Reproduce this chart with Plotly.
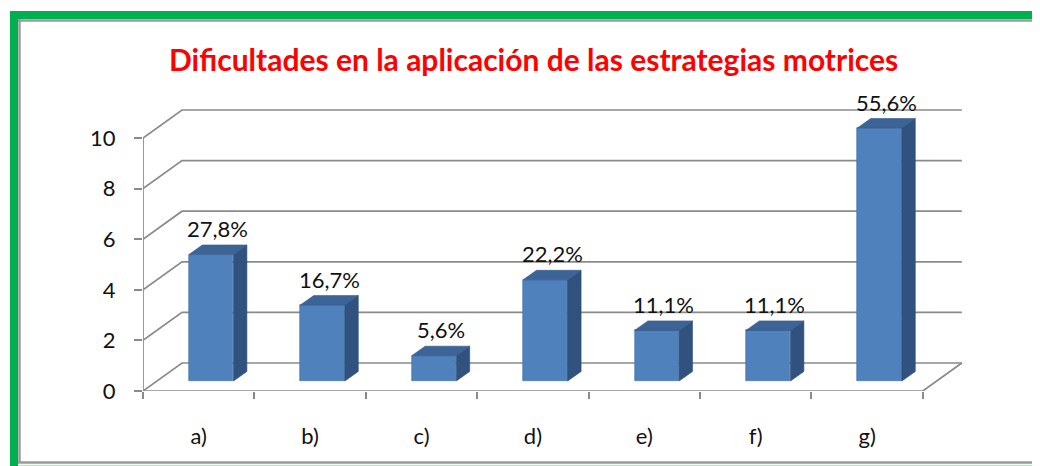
import plotly.graph_objects as go

# ---------------- data ----------------
categories = ["a)", "b)", "c)", "d)", "e)", "f)", "g)"]
counts = [5, 3, 1, 4, 2, 2, 10]
percent_labels = ["27,8%", "16,7%", "5,6%", "22,2%", "11,1%", "11,1%", "55,6%"]
y_ticks = [0, 2, 4, 6, 8, 10]
title_text = "Dificultades en la aplicación de las estrategias motrices"

# ---------------- geometry ----------------
PAGE_OFF = 8          # page body margin in the browser
W, H = 1040 - PAGE_OFF, 466 - PAGE_OFF
PX_X = 111.4          # pixels per category
PX_Y = 25.3           # pixels per value unit
ORIG_X, ORIG_Y = 143 - PAGE_OFF, 391 - PAGE_OFF
PLOT_W, PLOT_H = 835, 291
X_RANGE = [0, PLOT_W / PX_X]
Y_RANGE = [0, PLOT_H / PX_Y]

WALL_DX, WALL_DY = 39 / PX_X, 28 / PX_Y     # back-wall offset (pseudo 3D)
BAR_SX, BAR_SY = 12.5 / PX_X, 10 / PX_Y     # bar front-face offset
BAR_DX, BAR_DY = 13.4 / PX_X, 9.5 / PX_Y    # bar depth
BAR_W = 1 / 2.5                              # gap width 150 %

GRID_COL = "#8a8a8a"
FRONT_COL = "#4F81BD"
TOP_COL = "#3C6497"
SIDE_COL = "#31527F"
FONT = "Lato"

n = len(categories)
centers = [i + 0.5 for i in range(n)]
ymax = y_ticks[-1]


def px(xp):
    """reference-image pixel x -> paper coordinate"""
    return (xp - PAGE_OFF - ORIG_X) / PLOT_W


def py(yp):
    """reference-image pixel y -> paper coordinate"""
    return (ORIG_Y - (yp - PAGE_OFF)) / PLOT_H


fig = go.Figure()

# ---------------- walls / gridlines (base axes, behind bars) ----------------
gx, gy = [], []
for v in y_ticks:
    gx += [0, WALL_DX, n + WALL_DX, None]
    gy += [v, v + WALL_DY, v + WALL_DY, None]
gx += [0, n, n + WALL_DX, None, 0, 0]
gy += [0, 0, WALL_DY, None, 0, ymax]
fig.add_trace(go.Scatter(x=gx, y=gy, mode="lines",
                         line=dict(color=GRID_COL, width=1.7),
                         hoverinfo="skip", showlegend=False))

# ---------------- bars (overlay axes) ----------------
fx = [c + BAR_SX for c in centers]
fig.add_trace(go.Bar(x=fx, y=counts, base=[BAR_SY] * n, width=BAR_W,
                     marker=dict(color=FRONT_COL, line=dict(color="#3F6FA8", width=0.6)),
                     xaxis="x2", yaxis="y2", showlegend=False))

sxs, sys_, txs, tys = [], [], [], []
for c, v in zip(fx, counts):
    xl, xr = c - BAR_W / 2, c + BAR_W / 2
    b, t = BAR_SY, v + BAR_SY
    sxs += [xr, xr + BAR_DX, xr + BAR_DX, xr, xr, None]
    sys_ += [b, b + BAR_DY, t + BAR_DY, t, b, None]
    txs += [xl, xr, xr + BAR_DX, xl + BAR_DX, xl, None]
    tys += [t, t, t + BAR_DY, t + BAR_DY, t, None]
fig.add_trace(go.Scatter(x=sxs, y=sys_, mode="lines", fill="toself",
                         fillcolor=SIDE_COL, line=dict(color="#2C4A73", width=0.6),
                         xaxis="x2", yaxis="y2", hoverinfo="skip", showlegend=False))
fig.add_trace(go.Scatter(x=txs, y=tys, mode="lines", fill="toself",
                         fillcolor=TOP_COL, line=dict(color="#34588A", width=0.6),
                         xaxis="x2", yaxis="y2", hoverinfo="skip", showlegend=False))

# data labels
for c, v, lab in zip(fx, counts, percent_labels):
    fig.add_annotation(x=c + BAR_DX / 2, y=v + BAR_SY + BAR_DY, text=lab,
                       xref="x2", yref="y2", showarrow=False,
                       xanchor="center", yanchor="bottom", yshift=1,
                       font=dict(family=FONT, size=22, color="#111111"))

# title
fig.add_annotation(x=px(533), y=py(59), xref="paper", yref="paper",
                   text="<b>" + title_text + "</b>", showarrow=False,
                   xanchor="center", yanchor="middle",
                   font=dict(family=FONT, size=30, color="#FF0000"))

# frame: only top, left and bottom edges are inside the picture
RIGHT = px(1040)
for (x0, y0, x1, y1, col, w) in [
    (px(10), py(15), RIGHT, py(15), "#00B050", 8),      # top green
    (px(14), py(11), px(14), py(466), "#00B050", 8),    # left green
    (px(18), py(20.5), RIGHT, py(20.5), "#9a9a9a", 2.5),
    (px(19.5), py(19), px(19.5), py(463), "#9a9a9a", 2.5),
    (px(18), py(462.5), RIGHT, py(462.5), "#9a9a9a", 2.5),
    (px(18), py(465.5), RIGHT, py(465.5), "#b8e6c8", 1.5),
]:
    fig.add_shape(type="line", xref="paper", yref="paper",
                  x0=x0, y0=y0, x1=x1, y1=y1,
                  line=dict(color=col, width=w), layer="above")

fig.update_layout(
    width=W, height=H,
    margin=dict(l=ORIG_X, r=W - ORIG_X - PLOT_W, t=ORIG_Y - PLOT_H, b=H - ORIG_Y, pad=0),
    paper_bgcolor="white", plot_bgcolor="white",
    showlegend=False, bargap=0,
    xaxis=dict(range=X_RANGE, showgrid=False, zeroline=False, showline=False,
               tickmode="array", tickvals=centers, ticktext=categories,
               ticks="", ticklabelstandoff=30, automargin=False,
               tickfont=dict(family=FONT, size=22, color="#111111"),
               minor=dict(tickmode="array", tickvals=list(range(n + 1)),
                          ticks="outside", ticklen=7, tickwidth=1.7, tickcolor=GRID_COL)),
    yaxis=dict(range=Y_RANGE, showgrid=False, zeroline=False, showline=False,
               tickmode="array", tickvals=y_ticks, ticks="outside", ticklen=8,
               tickwidth=1.7, tickcolor=GRID_COL, ticklabelstandoff=14,
               automargin=False,
               tickfont=dict(family=FONT, size=22, color="#111111")),
    xaxis2=dict(range=X_RANGE, overlaying="x", visible=False),
    yaxis2=dict(range=Y_RANGE, overlaying="y", visible=False),
)

fig.write_html("out.html")
